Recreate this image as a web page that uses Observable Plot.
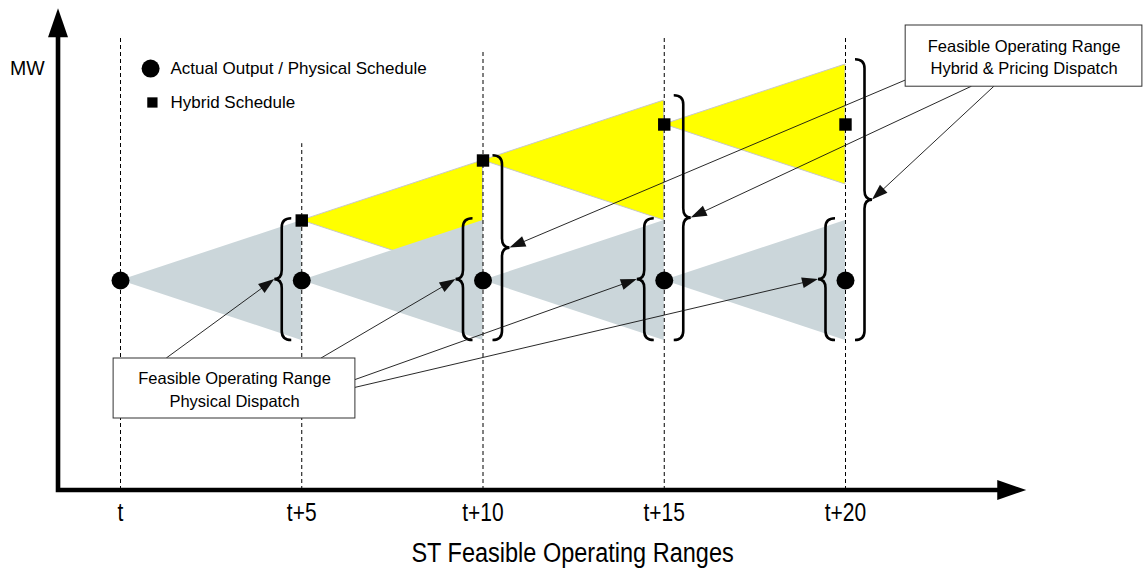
<!DOCTYPE html>
<html><head><meta charset="utf-8">
<script src="https://cdn.jsdelivr.net/npm/d3@7"></script>
<script src="https://cdn.jsdelivr.net/npm/@observablehq/plot@0.6"></script>
<style>
html,body{margin:0;padding:0;background:#fff;}
#chart svg{display:block}
</style></head><body><div id="chart"></div>
<script>
// ---------- data ----------
const times = [0, 5, 10, 15, 20];
const tickLabels = ["t", "t+5", "t+10", "t+15", "t+20"];
const actualOutput = [35, 35, 35, 35, 35];       // MW (circles)
const hybridSchedule = [null, 45, 55, 61, 61];   // MW (squares)
const rampRange = 10;                            // MW reachable in 5 min
const dashTop = [75.5, 57.8, 73, 75.5, 75.5];    // top of each dashed time line
const legendLabels = ["Actual Output / Physical Schedule", "Hybrid Schedule"];
const physicalBoxText = "Feasible Operating Range\nPhysical Dispatch";
const hybridBoxText = "Feasible Operating Range\nHybrid & Pricing Dispatch";
const xTitle = "ST Feasible Operating Ranges";
const yTitle = "MW";

// ---------- layout ----------
const X0 = -1.71, XEND = 25, Y0 = 0, YEND = 80.3;
const boxes = {
  physical: {x1: -0.19, x2: 6.48, y1: 22, y2: 12, text: physicalBoxText},
  hybrid: {x1: 21.66, x2: 28.19, y1: 77.5, y2: 67.3, text: hybridBoxText}
};
// leaders: start on a box edge (fraction f along it), end at a brace tip
const leaders = [
  {box: "physical", edge: "top", f: 0.22, brace: "small", t: 5},
  {box: "physical", edge: "top", f: 0.86, brace: "small", t: 10},
  {box: "physical", edge: "right", f: 0.36, brace: "small", t: 15},
  {box: "physical", edge: "right", f: 0.49, brace: "small", t: 20},
  {box: "hybrid", edge: "left", f: 0.9, brace: "large", t: 10},
  {box: "hybrid", edge: "bottom", f: 0.28, brace: "large", t: 15},
  {box: "hybrid", edge: "bottom", f: 0.375, brace: "large", t: 20}
];

// ---------- derived tables ----------
const greyArea = [], yellowArea = [];
for (let i = 0; i < times.length - 1; i++) {
  const a = actualOutput[i];
  greyArea.push({seg: i, x: times[i], y1: a, y2: a});
  greyArea.push({seg: i, x: times[i + 1], y1: a - rampRange, y2: a + rampRange});
  const h = hybridSchedule[i];
  if (h != null) {
    yellowArea.push({seg: i, x: times[i], y1: h, y2: h});
    yellowArea.push({seg: i, x: times[i + 1], y1: h - rampRange, y2: h + rampRange});
  }
}
const smallBraces = [], largeBraces = [];
for (let i = 1; i < times.length; i++) {
  const lo = actualOutput[i - 1] - rampRange, hiG = actualOutput[i - 1] + rampRange;
  smallBraces.push({t: times[i], lo, hi: hiG + 0.3});
  if (hybridSchedule[i - 1] != null) {
    largeBraces.push({t: times[i], lo, hi: hybridSchedule[i - 1] + rampRange + 0.8});
  }
}
const circles = times.map((t, i) => ({t, v: actualOutput[i]}));
const squares = times.map((t, i) => ({t, v: hybridSchedule[i]})).filter(d => d.v != null);

function bracePath(xl, yTop, yBot, s) {
  const hook = xl + s * 10, stem = xl + s * 19.5, tip = xl + s * 27;
  const ym = (yTop + yBot) / 2, r = 9;
  return `M${hook},${yTop} Q${stem},${yTop} ${stem},${yTop + r} L${stem},${ym - r} Q${stem},${ym} ${tip},${ym} Q${stem},${ym} ${stem},${ym + r} L${stem},${yBot - r} Q${stem},${yBot} ${hook},${yBot}`;
}

function braceMark(index, scales) {
  const g = d3.create("svg:g").attr("fill", "none").attr("stroke", "#000").attr("stroke-width", 2.6);
  for (const b of smallBraces) g.append("path").attr("d", bracePath(scales.x(b.t), scales.y(b.hi), scales.y(b.lo), -1));
  for (const b of largeBraces) g.append("path").attr("d", bracePath(scales.x(b.t), scales.y(b.hi), scales.y(b.lo), 1));
  return g.node();
}

function arrowHead(g, x1, y1, x2, y2, L, W, sw, color) {
  const dx = x2 - x1, dy = y2 - y1, len = Math.hypot(dx, dy);
  const ux = dx / len, uy = dy / len, nx = -uy, ny = ux;
  const bx = x2 - ux * L, by = y2 - uy * L;
  g.append("line").attr("x1", x1).attr("y1", y1).attr("x2", bx + ux * 1).attr("y2", by + uy * 1)
    .attr("stroke", color).attr("stroke-width", sw);
  g.append("path").attr("d", `M${x2},${y2}L${bx + nx * W},${by + ny * W}L${bx - nx * W},${by - ny * W}Z`).attr("fill", color);
}

function leaderMark(index, scales) {
  const g = d3.create("svg:g");
  for (const l of leaders) {
    const b = boxes[l.box];
    const bx1 = scales.x(b.x1), bx2 = scales.x(b.x2), by1 = scales.y(b.y1), by2 = scales.y(b.y2);
    let sx, sy;
    if (l.edge === "top") { sx = bx1 + (bx2 - bx1) * l.f; sy = by1; }
    else if (l.edge === "bottom") { sx = bx1 + (bx2 - bx1) * l.f; sy = by2; }
    else if (l.edge === "left") { sx = bx1; sy = by1 + (by2 - by1) * l.f; }
    else { sx = bx2; sy = by1 + (by2 - by1) * l.f; }
    const list = l.brace === "small" ? smallBraces : largeBraces;
    const br = list.find(d => d.t === l.t);
    const side = l.brace === "small" ? -1 : 1;
    const tx = scales.x(br.t) + side * 27, ty = (scales.y(br.hi) + scales.y(br.lo)) / 2;
    arrowHead(g, sx, sy, tx, ty, 16, 5.5, 0.9, "#111");
  }
  return g.node();
}

function axesMark(index, scales) {
  const g = d3.create("svg:g");
  const ox = scales.x(X0), oy = scales.y(Y0), ex = scales.x(XEND), ey = scales.y(YEND);
  const L = 29, W = 10;
  g.append("path").attr("d", `M${ex - L + 1},${oy}L${ox},${oy}L${ox},${ey + L - 1}`)
    .attr("fill", "none").attr("stroke", "#000").attr("stroke-width", 4.6).attr("stroke-linejoin", "miter");
  g.append("path").attr("d", `M${ex},${oy}L${ex - L},${oy - W}L${ex - L},${oy + W}Z`).attr("fill", "#000");
  g.append("path").attr("d", `M${ox},${ey}L${ox - W},${ey + L}L${ox + W},${ey + L}Z`).attr("fill", "#000");
  return g.node();
}

const boxList = Object.values(boxes);
const narrow = "Liberation Sans, Arial, sans-serif";

const plot = Plot.plot({
  width: 1143, height: 573,
  marginLeft: 0, marginRight: 0, marginTop: 0, marginBottom: 0,
  x: {domain: [0, 20], range: [120, 845], axis: null},
  y: {domain: [0, 80], range: [490, 10], axis: null},
  style: {fontFamily: "'Liberation Sans', Arial, sans-serif", background: "#fff", overflow: "visible"},
  marks: [
    Plot.areaY(yellowArea, {x: "x", y1: "y1", y2: "y2", z: "seg", fill: "#ffff00", stroke: "#c8c8c8", strokeWidth: 1, curve: "linear"}),
    Plot.areaY(greyArea, {x: "x", y1: "y1", y2: "y2", z: "seg", fill: "#cbd6da", curve: "linear"}),
    Plot.ruleX(times, {x: d => d, y1: 0, y2: (d, i) => dashTop[i], stroke: "#000", strokeWidth: 1, strokeDasharray: "4,3"}),
    braceMark,
    leaderMark,
    Plot.rect(boxList, {x1: "x1", x2: "x2", y1: "y1", y2: "y2", fill: "#fff", stroke: "#333", strokeWidth: 1}),
    Plot.text(boxList, {x: d => (d.x1 + d.x2) / 2, y: d => (d.y1 + d.y2) / 2, text: "text", fontSize: 16.5, lineHeight: 1.36, fill: "#000"}),
    Plot.dot(circles, {x: "t", y: "v", r: 9, fill: "#000"}),
    Plot.dot(squares, {x: "t", y: "v", r: 7, symbol: "square", fill: "#000"}),
    axesMark,
    Plot.text(times, {x: d => d, y: -3.8, text: (d, i) => tickLabels[i], fontFamily: narrow, fontSize: 25, fill: "#000"}),
    Plot.text([xTitle], {x: 12.47, y: -10.5, text: d => d, fontFamily: narrow, fontSize: 28, fill: "#000"}),
    Plot.text([yTitle], {x: -2.57, y: 70.33, text: d => d, fontSize: 19.5, fill: "#000"}),
    Plot.dot([legendLabels[0]], {x: 0.83, y: 70.33, r: 9, fill: "#000"}),
    Plot.dot([legendLabels[1]], {x: 0.88, y: 64.67, r: 5.8, symbol: "square", fill: "#000"}),
    Plot.text(legendLabels, {x: 1.38, y: (d, i) => i === 0 ? 70.33 : 64.67, text: d => d, textAnchor: "start", fontSize: 17, fill: "#000"})
  ]
});
// condense the axis labels (Arial Narrow look) by squeezing them horizontally
d3.select(plot).selectAll(`g[font-family="${narrow}"] text`).each(function () {
  const t = this.getAttribute("transform");
  if (t) {
    this.setAttribute("transform", t + " scale(0.84,1)");
  } else {
    const x = +this.getAttribute("x") || 0, y = +this.getAttribute("y") || 0;
    this.removeAttribute("x"); this.removeAttribute("y");
    this.setAttribute("transform", `translate(${x},${y}) scale(0.84,1)`);
  }
});
document.getElementById("chart").appendChild(plot);
</script>
</body></html>
